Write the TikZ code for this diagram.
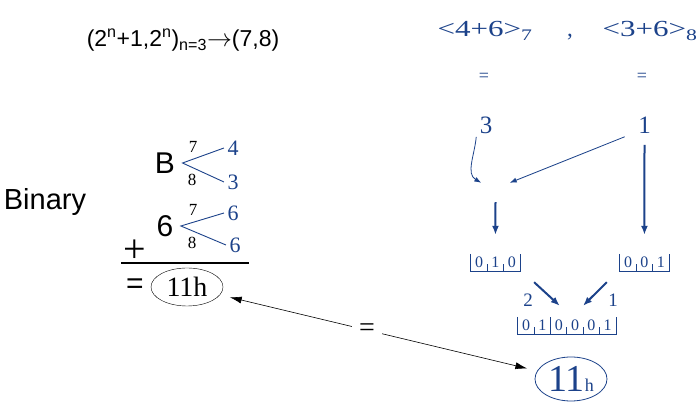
\documentclass[tikz,border=0pt]{standalone}
\usepackage{fontspec}
\setmainfont{Liberation Serif}
\setsansfont{Liberation Sans}
\newfontfamily\widefont[FakeStretch=1.35]{Liberation Serif}
\usetikzlibrary{arrows.meta,shapes.geometric}
\definecolor{bitblue}{RGB}{28,66,138}
\newcommand{\fsz}[1]{\fontsize{#1}{#1}\selectfont}

\begin{document}
\begin{tikzpicture}[x=1pt,y=1pt,
    bl/.style={text=bitblue},
    cell/.style={text=bitblue,font=\fsz{16},minimum width=16.3pt,minimum height=17pt,inner sep=0pt},
    frame/.style={draw=bitblue,line width=0.9pt},
    split/.style={draw=bitblue,line width=0.9pt},
    thinarrow/.style={draw=bitblue,line width=0.8pt,-{Latex[length=7pt,width=5pt]}},
    fatarrow/.style={draw=bitblue,line width=2pt,-{Latex[length=9pt,width=7pt]}}]
\useasboundingbox (0,0) rectangle (699,406);

% shift rule
\node[font=\sffamily\fsz{23}] (rule) at (183,366) {(2\textsuperscript{n}+1,2\textsuperscript{n})\textsubscript{n=3}$\rightarrow$(7,8)};

% right side, blue
\node[bl,font=\widefont\fsz{23},anchor=base] (sumA) at (485,369) {<4+6>\textsubscript{7}};
\node[bl,font=\fsz{23},anchor=base] (comma) at (570,369) {,};
\node[bl,font=\widefont\fsz{23},anchor=base] (sumB) at (650,369) {<3+6>\textsubscript{8}};
\node[bl,font=\fsz{18}] (eqA) at (484,329) {=};
\node[bl,font=\fsz{18}] (eqB) at (642,329) {=};
\node[bl,font=\fsz{25}] (three) at (486,281) {3};
\node[bl,font=\fsz{25}] (one) at (644.5,281) {1};
\node[minimum width=28pt,minimum height=14pt] (join) at (495.5,216) {};

\draw[thinarrow] (three.south west) to[out=-95,in=150] (join.north west);
\draw[thinarrow] ([xshift=-10pt]one.south west) -- (join.north east);

\foreach \d [count=\i] in {0,1,0}
  \node[cell] (l\i) at ({462.85+16.3*\i},143.5) {\d};
\foreach \d [count=\i] in {0,0,1}
  \node[cell] (r\i) at ({611.85+16.3*\i},143.5) {\d};
\foreach \d [count=\i] in {0,1,0,0,0,1}
  \node[cell] (s\i) at ({509.85+16.3*\i},80.5) {\d};

\draw[frame] (l1.north west) -- (l1.south west) -- (l3.south east) -- (l3.north east);
\foreach \i in {2,3} \draw[frame] (l\i.south west) -- ++(0,7);
\draw[frame] (r1.north west) -- (r1.south west) -- (r3.south east) -- (r3.north east);
\foreach \i in {2,3} \draw[frame] (r\i.south west) -- ++(0,7);
\draw[frame] (s1.north west) -- (s1.south west) -- (s6.south east) -- (s6.north east);
\draw[frame] (s3.south west) -- (s3.north west);
\foreach \i in {2,4,5,6} \draw[frame] (s\i.south west) -- ++(0,7);

\draw[fatarrow,shorten <=5pt,shorten >=19pt] (join.south) -- (l2.north);
\draw[fatarrow,shorten <=8pt,shorten >=19pt] (one.south) -- (r2.north);
\draw[fatarrow] ([shift={(14,-11)}]l3.south east) -- ([shift={(1,11)}]s3.north);
\draw[fatarrow] ([shift={(-13,-11)}]r1.south west) -- ([shift={(8,11)}]s4.north);
\node[bl,font=\fsz{19}] (two) at (528,106) {2};
\node[bl,font=\fsz{19}] (oneb) at (613,106) {1};

\node[ellipse,draw=bitblue,line width=0.8pt,minimum width=72pt,minimum height=44pt,inner sep=0pt,bl,font=\fsz{38}] (hres) at (571,27) {11{\fsz{18}h}};

% left side, binary sum
\node[font=\sffamily\fsz{29}] (binary) at (45,204) {Binary};
\node[font=\sffamily\fsz{30}] (b) at (165,243) {B};
\node[font=\sffamily\fsz{30}] (six) at (165,180) {6};
\node[bl,font=\fsz{22}] (bA) at (233,258) {4};
\node[bl,font=\fsz{22}] (bB) at (233,224) {3};
\node[bl,font=\fsz{22}] (sA) at (233,193) {6};
\node[bl,font=\fsz{22}] (sB) at (235,161) {6};
\node[font=\fsz{17}] (b7) at (193,259) {7};
\node[font=\fsz{17}] (b8) at (192,226) {8};
\node[font=\fsz{17}] (s7) at (193,196) {7};
\node[font=\fsz{17}] (s8) at (192,163) {8};
\draw[split] (bA.west) -- ([xshift=4pt]b.east) -- (bB.west);
\draw[split] (sA.west) -- ([xshift=4pt]six.east) -- (sB.west);
\node[font=\fsz{40}] (plus) at (135,155) {+};
\draw[line width=1.6pt] (121,143) -- (249,143);
\node[font=\sffamily\fsz{30}] (eq) at (135,120) {=};
\node[ellipse,draw,minimum width=72pt,minimum height=38pt,inner sep=0pt,font=\fsz{28}] (res) at (187,119) {11h};

\draw[line width=0.6pt,{Latex[length=12pt,width=7pt]}-{Latex[length=12pt,width=7pt]},shorten <=10pt,shorten >=10pt]
  (res) -- node[pos=0.464,fill=white,font=\fsz{28},inner xsep=7pt] (eqmid) {=} (hres);
\end{tikzpicture}
\end{document}
